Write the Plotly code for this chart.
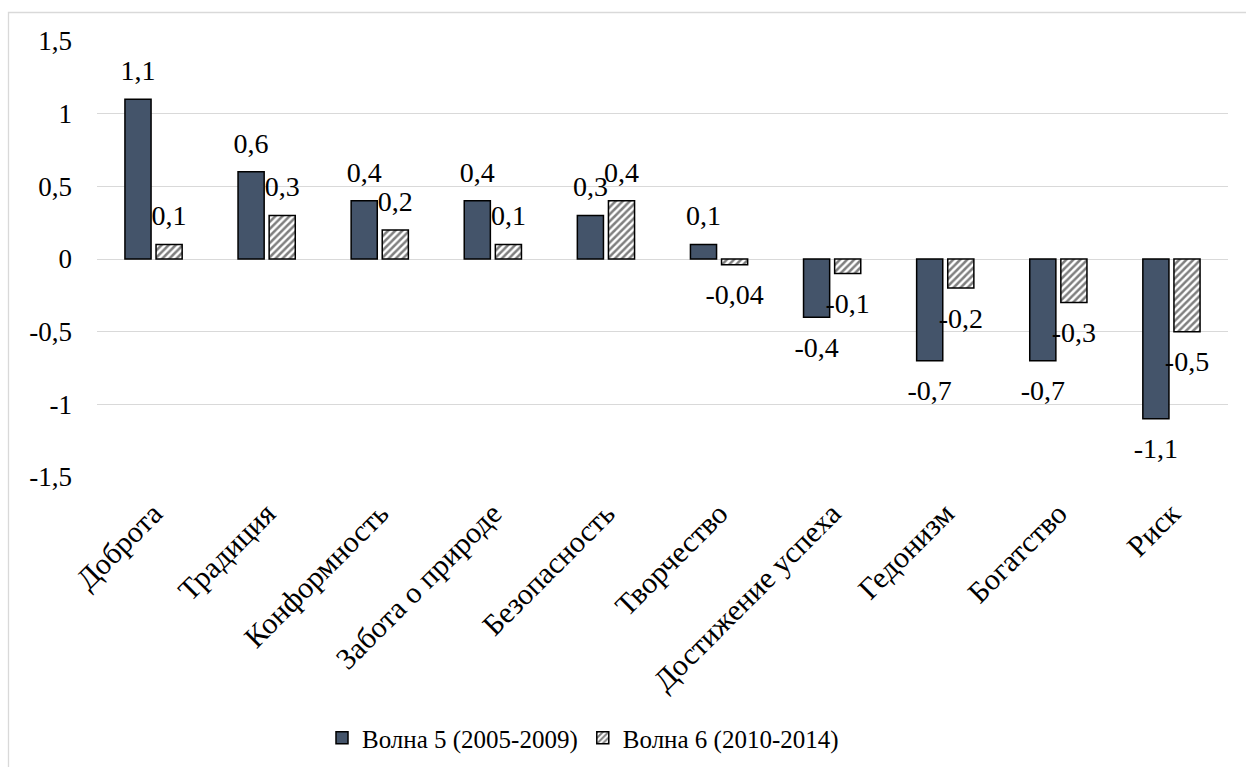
import plotly.graph_objects as go

categories = ["Доброта", "Традиция", "Конформность", "Забота о природе", "Безопасность",
              "Творчество", "Достижение успеха", "Гедонизм", "Богатство", "Риск"]
wave5 = [1.1, 0.6, 0.4, 0.4, 0.3, 0.1, -0.4, -0.7, -0.7, -1.1]
wave6 = [0.1, 0.3, 0.2, 0.1, 0.4, -0.04, -0.1, -0.2, -0.3, -0.5]
wave5_labels = ["1,1", "0,6", "0,4", "0,4", "0,3", "0,1", "-0,4", "-0,7", "-0,7", "-1,1"]
wave6_labels = ["0,1", "0,3", "0,2", "0,1", "0,4", "-0,04", "-0,1", "-0,2", "-0,3", "-0,5"]
series_names = ["Волна 5 (2005-2009)", "Волна 6 (2010-2014)"]
tick_vals = [1.5, 1, 0.5, 0, -0.5, -1, -1.5]
tick_text = ["1,5", "1", "0,5", "0", "-0,5", "-1", "-1,5"]

FONT = "Liberation Serif"
FS = 27
DFS = 28
XFS = 30
LFS = 25
GAP = 0.45

fig = go.Figure()
fig.add_trace(go.Bar(
    x=categories, y=wave5, name=series_names[0], offsetgroup="w5",
    marker=dict(color="#44546A", line=dict(color="black", width=1.5)),
    hoverinfo="skip",
))
fig.add_trace(go.Bar(
    x=categories, y=wave6, name=series_names[1], offsetgroup="w6",
    marker=dict(color="white", line=dict(color="black", width=1.5),
                pattern=dict(shape="/", fgcolor="black", bgcolor="white", size=5, solidity=0.5)),
    hoverinfo="skip",
))
# data labels (scatter traces with invisible markers, grouped like the bars)
for vals, labels, grp in [(wave5, wave5_labels, "w5"), (wave6, wave6_labels, "w6")]:
    fig.add_trace(go.Scatter(
        x=categories, y=vals, text=labels, mode="markers+text", offsetgroup=grp,
        textposition=["top center" if v >= 0 else "bottom center" for v in vals],
        textfont=dict(family=FONT, size=DFS, color="black"),
        marker=dict(size=[18 if v >= 0 else 28 for v in vals], opacity=0, color="white"),
        cliponaxis=False, showlegend=False, hoverinfo="skip",
    ))

L, R, T, B = 97, 18, 41, 290
W, H = 1246, 767
pw, ph = W - L - R, H - T - B

fig.update_layout(
    width=W, height=H,
    margin=dict(l=L, r=R, t=T, b=B, autoexpand=False),
    paper_bgcolor="white", plot_bgcolor="white",
    barmode="group", bargap=GAP, bargroupgap=0.16,
    scattermode="group", scattergap=GAP,
    font=dict(family=FONT, size=FS, color="black"),
    showlegend=True,
    legend=dict(orientation="h", x=(583 - L) / pw, xanchor="center", y=-(738 - T - ph) / ph, yanchor="middle",
                font=dict(family=FONT, size=LFS, color="black"), itemwidth=30, traceorder="normal"),
    xaxis=dict(tickangle=-45, showgrid=False, showline=False, ticks="", ticklabelstandoff=12,
               tickfont=dict(family=FONT, size=XFS, color="black")),
    yaxis=dict(range=[-1.5, 1.5], tickvals=tick_vals, ticktext=tick_text,
               showgrid=True, gridcolor="#d9d9d9", gridwidth=1.3,
               zeroline=True, zerolinecolor="#d9d9d9", zerolinewidth=1.3,
               showline=False, ticks="", ticklabelstandoff=24,
               tickfont=dict(family=FONT, size=FS, color="black")),
    shapes=[dict(type="rect", xref="paper", yref="paper",
                 x0=(8.5 - L) / pw, x1=(W + 10 - L) / pw,
                 y0=-(H + 10 - T - ph) / ph, y1=(H - B - 12.5) / ph,
                 line=dict(color="#d9d9d9", width=1.3), fillcolor="rgba(0,0,0,0)", layer="below")],
)

fig.write_html("out.html", config={"displayModeBar": False},
               post_script="document.body.style.margin='0';document.body.style.overflow='hidden';")
